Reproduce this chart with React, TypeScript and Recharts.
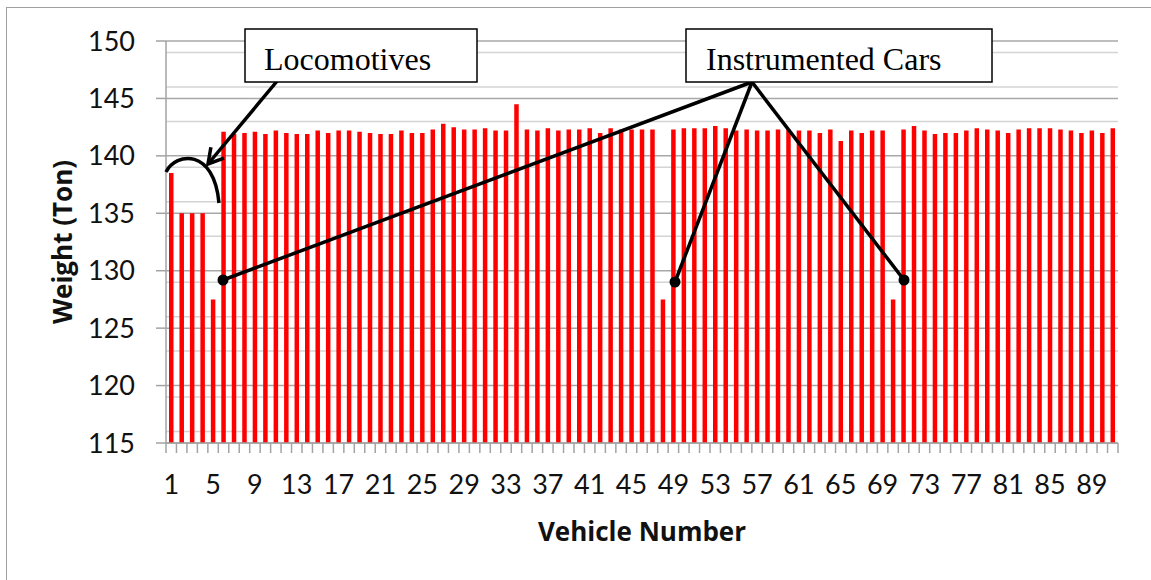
import React from 'react'
import { BarChart, Bar, XAxis, YAxis, CartesianGrid } from 'recharts'

// weight of each vehicle in the consist (tons)
const weights = [
  138.5, 135.0, 135.0, 135.0, 127.5, 142.1, 141.9, 142.0, 142.1, 141.9,
  142.2, 142.0, 141.9, 141.9, 142.2, 142.0, 142.2, 142.2, 142.1, 142.0,
  141.9, 141.9, 142.2, 142.0, 142.0, 142.3, 142.8, 142.5, 142.3, 142.3,
  142.4, 142.2, 142.2, 144.5, 142.3, 142.2, 142.4, 142.2, 142.3, 142.3,
  142.4, 142.0, 142.4, 142.3, 142.3, 142.3, 142.3, 127.5, 142.3, 142.4,
  142.4, 142.4, 142.6, 142.4, 142.2, 142.3, 142.2, 142.2, 142.3, 142.3,
  142.2, 142.2, 142.0, 142.3, 141.3, 142.2, 142.0, 142.2, 142.2, 127.5,
  142.3, 142.6, 142.2, 141.9, 142.0, 142.0, 142.2, 142.4, 142.3, 142.2,
  142.0, 142.3, 142.4, 142.4, 142.4, 142.3, 142.2, 142.0, 142.2, 142.0,
  142.4,
]
const vehicles = weights.map((_, i) => i + 1)

const xTickLabels = [1, 5, 9, 13, 17, 21, 25, 29, 33, 37, 41, 45, 49, 53, 57, 61, 65, 69, 73, 77, 81, 85, 89]
const yTicks = [115, 120, 125, 130, 135, 140, 145, 150]
const yMinor = Array.from({ length: 35 }, (_, i) => 115 + i).filter((v) => v % 5 !== 0)

const data = vehicles.map((v, i) => ({ vehicle: v, weight: weights[i] }))

const W = 1151
const H = 580
const PLOT = { left: 166, top: 41, right: 1118, bottom: 443 }
const FONT = 'Lato, "Open Sans", sans-serif'
const TITLE_FONT = '"Open Sans", Lato, sans-serif'
const AXIS_GREY = '#a3a3a3'

function VehicleTick(props: any) {
  const { x, payload } = props
  const band = (PLOT.right - PLOT.left) / weights.length
  const y0 = PLOT.bottom
  const isLast = payload.value === vehicles[vehicles.length - 1]
  return (
    <g>
      <line x1={x - band / 2} x2={x - band / 2} y1={y0} y2={y0 + 10} stroke={AXIS_GREY} strokeWidth={1.5} />
      {isLast && (
        <line x1={x + band / 2} x2={x + band / 2} y1={y0} y2={y0 + 10} stroke={AXIS_GREY} strokeWidth={1.5} />
      )}
      {xTickLabels.includes(payload.value) && (
        <text x={x} y={494} textAnchor="middle" fontSize={27} fontFamily={FONT} fill="#111">
          {payload.value}
        </text>
      )}
    </g>
  )
}

function Callout({ x, y, w, h, label, tx }: { x: number; y: number; w: number; h: number; label: string; tx: number }) {
  return (
    <g>
      <rect x={x} y={y} width={w} height={h} fill="#fff" stroke="#000" strokeWidth={1.5} />
      <text x={tx} y={y + 41} fontSize={32} fontFamily='"Liberation Serif", "Times New Roman", serif' fill="#000">
        {label}
      </text>
    </g>
  )
}

export default function App() {
  // Locomotives arrow head (open V)
  const ax = 208
  const ay = 164
  const dx = 278 - ax
  const dy = 80 - ay
  const len = Math.hypot(dx, dy)
  const ux = dx / len
  const uy = dy / len
  const arm = 17
  const rot = (a: number) => [ux * Math.cos(a) - uy * Math.sin(a), ux * Math.sin(a) + uy * Math.cos(a)]
  const [r1x, r1y] = rot(Math.PI / 6)
  const [r2x, r2y] = rot(-Math.PI / 6)

  const hub = { x: 752, y: 82 }
  const dots = [
    { x: 223, y: 280 },
    { x: 675, y: 282 },
    { x: 904, y: 280 },
  ]

  return (
    <div style={{ position: 'absolute', left: 0, top: 0, width: W, height: H, background: '#fff', overflow: 'hidden' }}>
      <div
        style={{
          position: 'absolute',
          left: 6,
          top: 7,
          width: W,
          height: H,
          border: '1.5px solid #a0a0a0',
          boxSizing: 'border-box',
        }}
      />
      <div style={{ position: 'absolute', left: 0, top: 0 }}>
        <BarChart
          width={W}
          height={H}
          data={data}
          margin={{ top: PLOT.top, right: W - PLOT.right, left: 0, bottom: H - PLOT.bottom - 60 }}
        >
          <CartesianGrid vertical={false} horizontalValues={yMinor} stroke="#d4d4d4" strokeWidth={1.5} />
          <CartesianGrid vertical={false} horizontalValues={yTicks} stroke="#a8a8a8" strokeWidth={1.5} />
          <XAxis
            dataKey="vehicle"
            interval={0}
            height={60}
            tickLine={false}
            axisLine={{ stroke: AXIS_GREY, strokeWidth: 1.5 }}
            tick={<VehicleTick />}
          />
          <YAxis
            type="number"
            domain={[115, 150]}
            ticks={yTicks}
            width={PLOT.left}
            tickSize={10}
            tickMargin={21}
            axisLine={{ stroke: AXIS_GREY, strokeWidth: 1.5 }}
            tickLine={{ stroke: AXIS_GREY, strokeWidth: 1.5 }}
            tick={{ fontSize: 27, fontFamily: FONT, fill: '#111' }}
          />
          <Bar dataKey="weight" fill="#ff0000" barSize={4.5} isAnimationActive={false} />
        </BarChart>
      </div>

      <svg width={W} height={H} style={{ position: 'absolute', left: 0, top: 0 }}>
        <text
          x={642}
          y={531}
          textAnchor="middle"
          dominantBaseline="central"
          fontSize={26}
          fontWeight={700}
          fontFamily={TITLE_FONT}
          fill="#111"
        >
          Vehicle Number
        </text>
        <text
          transform="translate(62 242) rotate(-90)"
          textAnchor="middle"
          dominantBaseline="central"
          fontSize={26}
          fontWeight={700}
          fontFamily={TITLE_FONT}
          fill="#111"
        >
          Weight (Ton)
        </text>

        {/* locomotives annotation */}
        <path d="M166 172 C176 152 214 148 219 203" fill="none" stroke="#000" strokeWidth={3.5} />
        <line x1={278} y1={80} x2={ax} y2={ay} stroke="#000" strokeWidth={3.5} />
        <polyline
          points={`${ax + r1x * arm},${ay + r1y * arm} ${ax},${ay} ${ax + r2x * arm},${ay + r2y * arm}`}
          fill="none"
          stroke="#000"
          strokeWidth={3.5}
        />
        <Callout x={245} y={29} w={232} h={53} label="Locomotives" tx={264} />

        {/* instrumented cars annotation */}
        {dots.map((d, i) => (
          <g key={i}>
            <line x1={hub.x} y1={hub.y} x2={d.x} y2={d.y} stroke="#000" strokeWidth={3.5} />
            <circle cx={d.x} cy={d.y} r={5.5} fill="#000" />
          </g>
        ))}
        <Callout x={686} y={29} w={306} h={53} label="Instrumented Cars" tx={706} />
      </svg>
    </div>
  )
}
